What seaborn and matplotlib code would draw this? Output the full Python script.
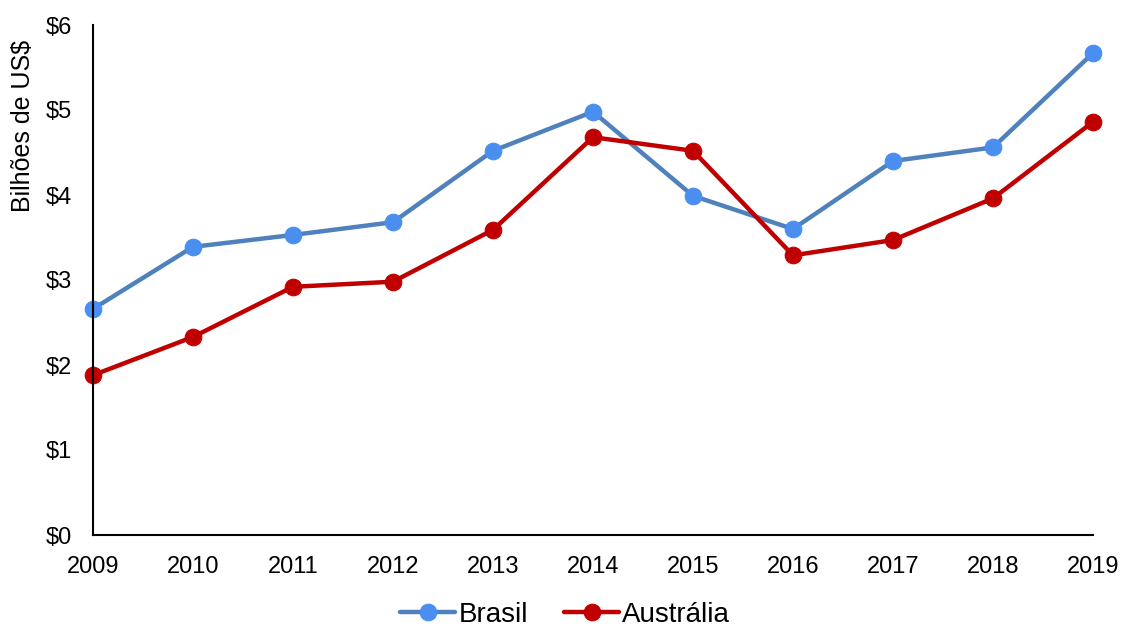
import matplotlib
matplotlib.use("Agg")
import matplotlib.pyplot as plt
import seaborn as sns
import pandas as pd
from matplotlib.ticker import FuncFormatter

years = [2009, 2010, 2011, 2012, 2013, 2014, 2015, 2016, 2017, 2018, 2019]
brasil = [2.66, 3.39, 3.53, 3.68, 4.52, 4.98, 3.99, 3.60, 4.40, 4.56, 5.67]
australia = [1.88, 2.33, 2.92, 2.98, 3.59, 4.68, 4.52, 3.29, 3.47, 3.96, 4.86]
series_names = ["Brasil", "Austrália"]
y_label = "Bilhões de US$"

sns.set_theme(style="white")
plt.rcParams["font.family"] = ["Liberation Sans", "DejaVu Sans"]
plt.rcParams["text.color"] = "black"
plt.rcParams["xtick.color"] = "black"
plt.rcParams["ytick.color"] = "black"
plt.rcParams["axes.labelcolor"] = "black"

fig = plt.figure(figsize=(11.22, 6.28), dpi=100)
ax = fig.add_axes([93/1122, (628-535)/628, 1000/1122, 510/628])

df_b = pd.DataFrame({"Ano": years, "Valor": brasil})
df_a = pd.DataFrame({"Ano": years, "Valor": australia})

sns.lineplot(data=df_b, x="Ano", y="Valor", ax=ax, color="#4f81bd", linewidth=3.2,
             marker="o", markersize=12, markerfacecolor="#4a8ef0", markeredgecolor="#4a8ef0",
             label=series_names[0])
sns.lineplot(data=df_a, x="Ano", y="Valor", ax=ax, color="#c00000", linewidth=3.2,
             marker="o", markersize=12, markerfacecolor="#c00000", markeredgecolor="#c00000",
             label=series_names[1])

ax.set_xlim(2009, 2019)
ax.set_ylim(0, 6)
ax.set_xticks(years)
ax.set_xticklabels([str(y) for y in years], fontsize=17)
ax.set_yticks(range(0, 7))
ax.yaxis.set_major_formatter(FuncFormatter(lambda v, p: f"${int(v)}"))
ax.tick_params(axis="y", labelsize=17, length=0, pad=15)
ax.tick_params(axis="x", length=0, pad=15)
ax.set_xlabel("")
ax.set_ylabel(y_label, fontsize=18)
ax.yaxis.set_label_coords(-0.058, 0.802)

for s in ["top", "right"]:
    ax.spines[s].set_visible(False)
for s in ["left", "bottom"]:
    ax.spines[s].set_color("black")
    ax.spines[s].set_linewidth(1.5)
ax.grid(False)
for line in ax.lines:
    line.set_clip_on(False)

leg = ax.legend(loc="center", bbox_to_anchor=(0.472, -0.157), ncol=2, frameon=False,
                fontsize=20, handlelength=2.0, columnspacing=1.3, handletextpad=0.1)

fig.savefig("out.png", dpi=100)
